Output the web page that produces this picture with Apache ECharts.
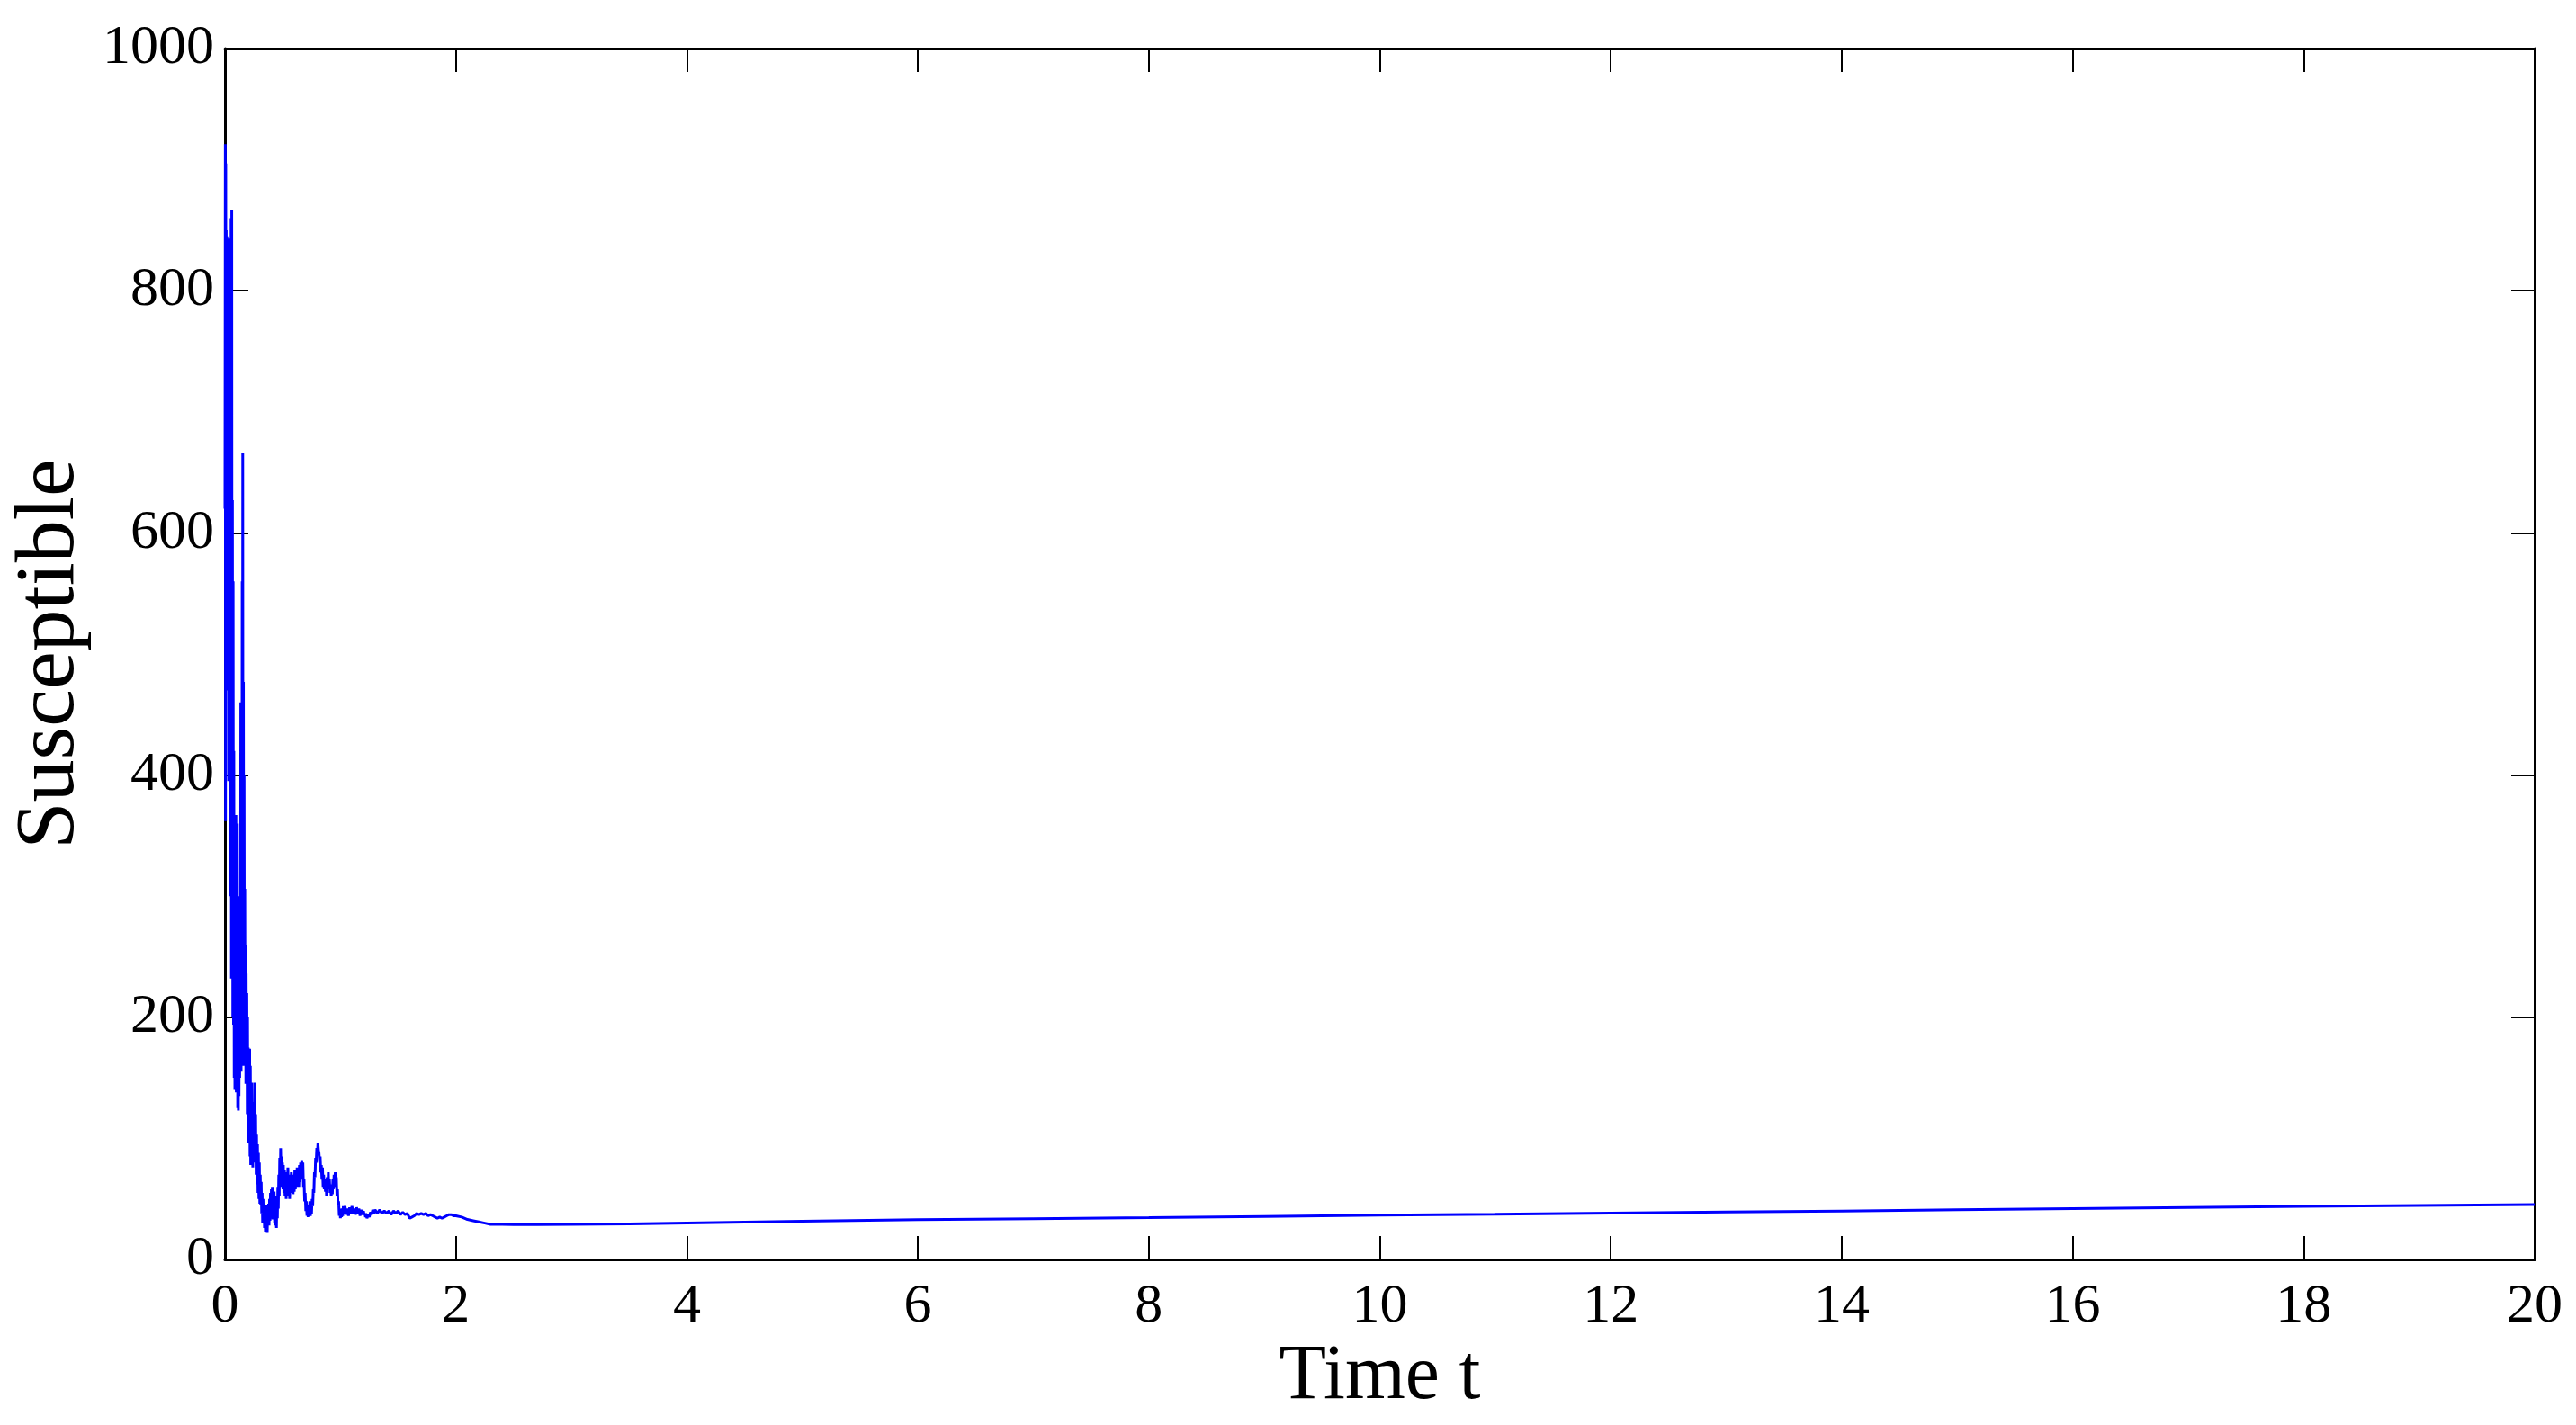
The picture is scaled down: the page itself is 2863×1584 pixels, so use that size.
<!DOCTYPE html>
<html>
<head>
<meta charset="utf-8">
<script src="https://cdn.jsdelivr.net/npm/echarts@6/dist/echarts.min.js"></script>
<style>
html,body{margin:0;padding:0;background:#fff;}
#chart{width:2863px;height:1584px;}
</style>
</head>
<body>
<div id="chart"></div>
<script>
// Time points (t) and Susceptible values
var times = [
0.000,0.003,0.005,0.007,0.009,0.011,0.014,0.017,0.020,0.023,0.026,0.029,0.032,0.035,0.038,0.041,0.044,0.047,0.050,0.053,
0.056,0.059,0.062,0.065,0.068,0.071,0.074,0.077,0.080,0.083,0.086,0.089,0.092,0.095,0.098,0.101,0.104,0.107,0.110,0.113,
0.116,0.119,0.122,0.125,0.128,0.131,0.134,0.137,0.140,0.143,0.146,0.149,0.151,0.154,0.157,0.160,0.163,0.166,0.169,0.172,
0.175,0.178,0.181,0.184,0.187,0.190,0.193,0.196,0.199,0.202,0.205,0.208,0.211,0.214,0.217,0.220,0.223,0.226,0.229,0.232,
0.235,0.238,0.241,0.244,0.247,0.250,0.254,0.258,0.262,0.266,0.270,0.274,0.278,0.282,0.286,0.290,0.294,0.298,0.302,0.306,
0.310,0.314,0.318,0.322,0.326,0.330,0.334,0.338,0.342,0.346,0.350,0.354,0.358,0.362,0.366,0.370,0.374,0.378,0.382,0.386,
0.390,0.394,0.398,0.402,0.406,0.410,0.414,0.418,0.422,0.426,0.430,0.434,0.438,0.442,0.446,0.450,0.454,0.458,0.462,0.466,
0.470,0.474,0.478,0.482,0.486,0.490,0.494,0.498,0.502,0.506,0.510,0.515,0.520,0.525,0.530,0.535,0.540,0.545,0.550,0.555,
0.560,0.565,0.570,0.575,0.580,0.585,0.590,0.595,0.600,0.605,0.610,0.615,0.620,0.625,0.630,0.635,0.640,0.645,0.650,0.655,
0.660,0.665,0.670,0.675,0.680,0.685,0.690,0.695,0.700,0.705,0.710,0.715,0.720,0.725,0.730,0.735,0.740,0.745,0.750,0.755,
0.760,0.765,0.770,0.775,0.780,0.785,0.790,0.795,0.800,0.805,0.810,0.815,0.820,0.825,0.830,0.835,0.840,0.845,0.850,0.855,
0.860,0.865,0.870,0.875,0.880,0.885,0.890,0.895,0.900,0.905,0.910,0.915,0.920,0.925,0.930,0.935,0.940,0.945,0.950,0.955,
0.960,0.965,0.970,0.975,0.980,0.985,0.990,0.995,1.000,1.005,1.010,1.015,1.020,1.025,1.030,1.040,1.050,1.060,1.070,1.080,
1.090,1.100,1.110,1.120,1.130,1.140,1.150,1.160,1.170,1.180,1.190,1.200,1.210,1.220,1.230,1.240,1.250,1.260,1.270,1.280,
1.290,1.300,1.320,1.340,1.360,1.380,1.400,1.420,1.440,1.460,1.480,1.500,1.520,1.540,1.560,1.580,1.600,1.620,1.640,1.660,
1.680,1.700,1.720,1.740,1.760,1.780,1.800,1.820,1.840,1.860,1.880,1.900,1.920,1.940,1.960,1.980,2.000,2.050,2.100,2.150,
2.200,2.250,2.300,2.400,2.500,2.700,3.000,3.500,4.000,5.000,6.000,7.000,8.000,9.000,10.000,11.000,12.000,13.000,14.000,15.000,
16.000,17.000,18.000,19.000,20.000
];
var susceptible = [
620,921,362,905,480,850,500,845,520,840,470,830,395,843,480,800,390,820,300,860,
232,867,250,627,200,560,194,420,150,333,140,300,160,367,138,340,170,360,125,230,
123,220,135,210,150,300,165,460,155,420,180,560,220,666,160,477,170,400,175,306,
165,260,145,236,150,220,120,200,110,175,96,170,100,174,85,160,78,140,90,146,
80,130,76,120,85,120,80,146,85,120,70,103,62,95,55,88,50,80,46,70,
45,64,38,55,30,50,34,46,26,44,23,40,24,45,22,38,30,46,28,50,
32,55,35,58,38,60,33,48,36,56,30,45,28,40,26,52,34,60,42,70,
52,84,60,92,70,85,62,80,58,78,55,74,52,72,50,68,55,76,52,70,
50,66,55,72,58,70,54,66,56,74,58,72,60,76,62,74,60,78,64,80,
66,82,70,80,60,66,48,55,40,48,36,45,35,44,38,48,36,42,38,50,
44,58,55,72,68,84,80,92,86,96,90,88,80,85,72,78,66,76,60,70,
58,66,56,64,52,68,58,72,58,66,55,62,52,60,54,66,58,70,60,72,
62,68,52,58,44,48,36,42,34,40,35,42,36,44,38,44,37,42,36,43,
38,44,38,42,37,43,38,42,36,41,37,40,35,38,34,37,35,39,37,41,
38,41,38,41,38,40,38,40,37,40,38,40,37,39,37,38,34,35,36,38,
37,38,37,38,36,37,36,35,34,35,34,35,36,37,37,36,36,35,33,32,
31,30,29,29,28.8,28.8,29,29.3,30,31.5,32.8,33.6,34.5,35.5,36.5,37.3,38.2,39.1,40,41,
42,42.9,43.9,44.6,45.4
];
var xTicks = [0,2,4,6,8,10,12,14,16,18,20];
var yTicks = [0,200,400,600,800,1000];

var seriesData = times.map(function(t,i){ return [t, susceptible[i]]; });

var font = "'Liberation Serif','Times New Roman',serif";
var axisLineStyle = {color:'#000', width:3};
var plain = function(v){ return String(v); };
var chart = echarts.init(document.getElementById('chart'), null, {renderer:'canvas'});
chart.setOption({
  animation:false,
  backgroundColor:'#fff',
  grid:{left:250, right:46, top:54, bottom:184, containLabel:false},
  xAxis:[{
    type:'value', min:xTicks[0], max:xTicks[xTicks.length-1], interval:2, position:'bottom',
    name:'Time t', nameLocation:'middle', nameGap:82,
    nameTextStyle:{fontFamily:font, fontSize:86, color:'#000'},
    axisLine:{show:true, lineStyle:axisLineStyle},
    axisTick:{show:true, inside:true, length:26, lineStyle:{color:'#000', width:2}},
    axisLabel:{show:true, margin:22, fontFamily:font, fontSize:62, color:'#000', formatter:plain},
    splitLine:{show:false}
  },{
    type:'value', min:xTicks[0], max:xTicks[xTicks.length-1], interval:2, position:'top',
    axisLine:{show:true, onZero:false, lineStyle:axisLineStyle},
    axisTick:{show:true, inside:true, length:26, lineStyle:{color:'#000', width:2}},
    axisLabel:{show:false}, splitLine:{show:false}
  }],
  yAxis:[{
    type:'value', min:yTicks[0], max:yTicks[yTicks.length-1], interval:200, position:'left',
    name:'Susceptible', nameLocation:'middle', nameGap:132, nameRotate:90,
    nameTextStyle:{fontFamily:font, fontSize:94, color:'#000'},
    axisLine:{show:true, lineStyle:axisLineStyle},
    axisTick:{show:true, inside:true, length:26, lineStyle:{color:'#000', width:2}},
    axisLabel:{show:true, margin:12, fontFamily:font, fontSize:62, color:'#000', formatter:plain},
    splitLine:{show:false}
  },{
    type:'value', min:yTicks[0], max:yTicks[yTicks.length-1], interval:200, position:'right',
    axisLine:{show:true, onZero:false, lineStyle:axisLineStyle},
    axisTick:{show:true, inside:true, length:26, lineStyle:{color:'#000', width:2}},
    axisLabel:{show:false}, splitLine:{show:false}
  }],
  series:[{
    type:'line', xAxisIndex:0, yAxisIndex:0, data:seriesData,
    showSymbol:false, symbol:'none', sampling:null,
    lineStyle:{color:'#0000FF', width:3}
  }]
});
</script>
</body>
</html>
